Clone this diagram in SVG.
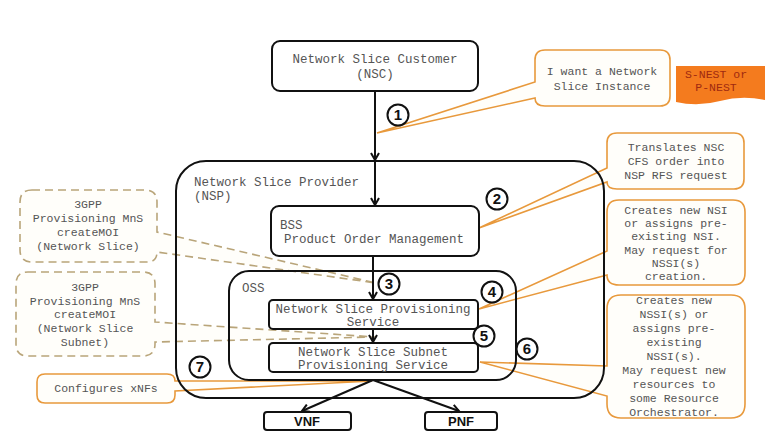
<svg xmlns="http://www.w3.org/2000/svg" width="783" height="445" viewBox="0 0 783 445">
<defs>
<style>
.box{fill:#fff;stroke:#111;stroke-width:2}
.frame{fill:none;stroke:#111;stroke-width:2}
.t{font-family:"Liberation Mono",monospace;font-size:12.5px;fill:#555}
.ct{font-family:"Liberation Mono",monospace;font-size:11.5px;fill:#555;text-anchor:middle}
.co{fill:#fffefa;stroke:#e8993c;stroke-width:1.6}
.cd{fill:#fffefa;stroke:#b9a57a;stroke-width:1.6;stroke-dasharray:8 5}
.num{fill:#fff;stroke:#111;stroke-width:2}
.nt{font-family:"Liberation Sans",Arial,sans-serif;font-size:15px;font-weight:bold;fill:#111;text-anchor:middle}
.conn{stroke:#111;stroke-width:2;fill:none}
</style>
<marker id="ah" markerWidth="10" markerHeight="10" refX="8" refY="5" orient="auto" markerUnits="userSpaceOnUse">
<path d="M1,1 L8,5 L1,9" fill="none" stroke="#111" stroke-width="2"/>
</marker>
</defs>
<rect width="783" height="445" fill="#fff"/>

<g id="callout-want">
<path class="co" d="M545,50 H660 Q670,50 670,60 V96 Q670,106 660,106 H545 Q535,106 535,98 L377,133 L535,82 V60 Q535,50 545,50 Z"/>
<text class="ct" x="602" y="75">I want a Network</text>
<text class="ct" x="602" y="90">Slice Instance</text>
</g>
<g id="nest">
<path d="M676,66 H765 V100 Q742,95 720,101 Q698,107 676,102 Z" fill="#f47b1e"/>
<text class="ct" x="716" y="78" style="fill:#a02a10">S-NEST or</text>
<text class="ct" x="716" y="91" style="fill:#a02a10">P-NEST</text>
</g>
<g id="callout-translate">
<path class="co" d="M617,133 H734 Q744,133 744,143 V179 Q744,189 734,189 H617 Q607,189 607,182 L479,228 L607,168 V143 Q607,133 617,133 Z"/>
<text class="ct" x="676" y="151">Translates NSC</text>
<text class="ct" x="676" y="165">CFS order into</text>
<text class="ct" x="676" y="179">NSP RFS request</text>
</g>
<g id="callout-nsi">
<path class="co" d="M619,200 H733 Q745,200 745,212 V273 Q745,285 733,285 H619 Q607,285 607,275 L479,309 L607,251 V212 Q607,200 619,200 Z"/>
<text class="ct" x="676" y="214">Creates new NSI</text>
<text class="ct" x="676" y="227">or assigns pre-</text>
<text class="ct" x="676" y="240">existing NSI.</text>
<text class="ct" x="676" y="254">May request for</text>
<text class="ct" x="676" y="267">NSSI(s)</text>
<text class="ct" x="676" y="280">creation.</text>
</g>
<g id="callout-nssi">
<path class="co" d="M621,295 H731 Q745,295 745,309 V404 Q745,418 731,418 H621 Q607,418 607,404 V396 L480,362 L607,366 V309 Q607,295 621,295 Z"/>
<text class="ct" x="674" y="304">Creates new</text>
<text class="ct" x="674" y="318">NSSI(s) or</text>
<text class="ct" x="674" y="332">assigns pre-</text>
<text class="ct" x="674" y="346">existing</text>
<text class="ct" x="674" y="360">NSSI(s).</text>
<text class="ct" x="674" y="374">May request new</text>
<text class="ct" x="674" y="388">resources to</text>
<text class="ct" x="674" y="402">some Resource</text>
<text class="ct" x="674" y="416">Orchestrator.</text>
</g>
<g id="callout-3gpp-ns">
<path class="cd" d="M32,190 H145 Q157,190 157,202 V232 L376,283 L157,252 Q157,262 147,262 H32 Q20,262 20,250 V202 Q20,190 32,190 Z"/>
<text class="ct" x="88" y="208">3GPP</text>
<text class="ct" x="88" y="222">Provisioning MnS</text>
<text class="ct" x="88" y="236">createMOI</text>
<text class="ct" x="88" y="250">(Network Slice)</text>
</g>
<g id="callout-3gpp-nss">
<path class="cd" d="M28,272 H143 Q155,272 155,284 V322 L375,337 L155,342 V344 Q155,356 143,356 H28 Q16,356 16,344 V284 Q16,272 28,272 Z"/>
<text class="ct" x="85" y="291">3GPP</text>
<text class="ct" x="85" y="305">Provisioning MnS</text>
<text class="ct" x="85" y="318">createMOI</text>
<text class="ct" x="85" y="332">(Network Slice</text>
<text class="ct" x="85" y="346">Subnet)</text>
</g>
<g id="callout-configure">
<path class="co" d="M45,374 H167 Q175,374 175,381 L372,381 L175,391 V395 Q175,403 167,403 H45 Q37,403 37,395 V382 Q37,374 45,374 Z"/>
<text class="ct" x="106" y="392">Configures xNFs</text>
</g>

<g id="nsp">
<rect class="frame" x="176" y="161" width="428" height="237" rx="30"/>
<text class="t" x="194" y="186">Network Slice Provider</text>
<text class="t" x="194" y="200">(NSP)</text>
</g>
<g id="oss">
<rect class="frame" x="229" y="271" width="287" height="109" rx="20"/>
<text class="t" x="242" y="292">OSS</text>
</g>
<g id="nsc">
<rect class="box" x="272" y="41" width="206" height="50" rx="8"/>
<text class="t" x="375" y="63" text-anchor="middle">Network Slice Customer</text>
<text class="t" x="375" y="78" text-anchor="middle">(NSC)</text>
</g>
<g id="bss">
<rect class="box" x="271" y="206" width="208" height="50" rx="8"/>
<text class="t" x="280" y="229">BSS</text>
<text class="t" x="284" y="243">Product Order Management</text>
</g>
<g id="nsps">
<rect class="box" x="269" y="300" width="209" height="29" rx="4"/>
<text class="t" x="373" y="313" text-anchor="middle">Network Slice Provisioning</text>
<text class="t" x="373" y="326" text-anchor="middle">Service</text>
</g>
<g id="nssps">
<rect class="box" x="269" y="343" width="209" height="29" rx="4"/>
<text class="t" x="373" y="356" text-anchor="middle">Network Slice Subnet</text>
<text class="t" x="373" y="369" text-anchor="middle">Provisioning Service</text>
</g>
<g id="vnf">
<rect class="box" x="264" y="412" width="87" height="18" rx="3"/>
<text x="307" y="426" text-anchor="middle" style="font-family:'Liberation Sans',Arial,sans-serif;font-weight:bold;font-size:13px;fill:#111">VNF</text>
</g>
<g id="pnf">
<rect class="box" x="425" y="412" width="72" height="18" rx="3"/>
<text x="461" y="426" text-anchor="middle" style="font-family:'Liberation Sans',Arial,sans-serif;font-weight:bold;font-size:13px;fill:#111">PNF</text>
</g>

<g id="connectors">
<line class="conn" x1="375" y1="91" x2="375" y2="160" marker-end="url(#ah)"/>
<line class="conn" x1="375" y1="162" x2="375" y2="205" marker-end="url(#ah)"/>
<line class="conn" x1="373" y1="256" x2="373" y2="299" marker-end="url(#ah)"/>
<line class="conn" x1="373" y1="329" x2="373" y2="342" marker-end="url(#ah)"/>
<line class="conn" x1="373" y1="380" x2="302" y2="411" marker-end="url(#ah)"/>
<line class="conn" x1="373" y1="380" x2="459" y2="411" marker-end="url(#ah)"/>
</g>

<g id="markers">
<circle class="num" cx="398" cy="115" r="10.5"/><text class="nt" x="398" y="120">1</text>
<circle class="num" cx="497" cy="199" r="10.5"/><text class="nt" x="497" y="204">2</text>
<circle class="num" cx="389" cy="284" r="10.5"/><text class="nt" x="389" y="289">3</text>
<circle class="num" cx="492" cy="292" r="10.5"/><text class="nt" x="492" y="297">4</text>
<circle class="num" cx="484" cy="336" r="10.5"/><text class="nt" x="484" y="341">5</text>
<circle class="num" cx="527" cy="349" r="10.5"/><text class="nt" x="527" y="354">6</text>
<circle class="num" cx="200" cy="367" r="10.5"/><text class="nt" x="200" y="372">7</text>
</g>
</svg>
